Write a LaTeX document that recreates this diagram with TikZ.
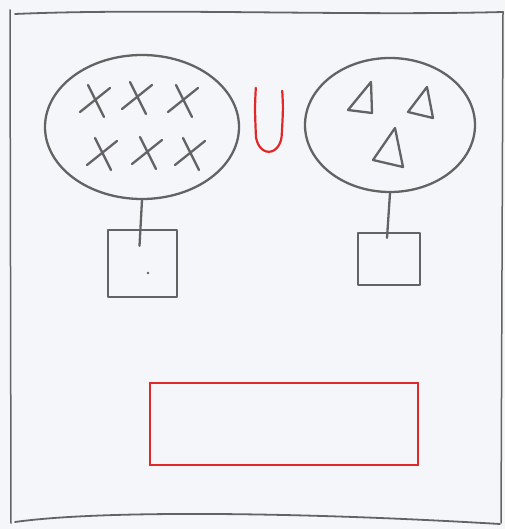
\documentclass[tikz,border=0pt]{standalone}
\usetikzlibrary{shapes.geometric}
\definecolor{pencil}{HTML}{636363}
\definecolor{redpen}{HTML}{E02828}
\definecolor{paper}{HTML}{F5F6FA}
\tikzset{
  sketch/.style={draw=pencil, line width=2.3pt, line cap=round, line join=round},
  redline/.style={draw=redpen, line width=2.2pt, line cap=round, line join=round},
  setellipse/.style={sketch, ellipse, inner sep=0pt},
  boxnode/.style={sketch, rectangle, inner sep=0pt},
}
\begin{document}
\begin{tikzpicture}[x=1pt,y=-1pt]
\fill[paper] (0,0) rectangle (505,529);
\useasboundingbox (0,0) rectangle (505,529);
% frame
\draw[sketch, line width=1.8pt] (15,14) .. controls (150,8) and (350,16) .. (503,12);
\draw[sketch, line width=1.5pt] (10,10) -- (11,523);
\draw[sketch, line width=1.5pt] (503,12) -- (501,523);
\draw[sketch, line width=1.8pt] (15,522) .. controls (100,510) and (300,512) .. (500,524);
% left set
\node[setellipse, minimum width=194pt, minimum height=144pt] (le) at (142,127) {};
\foreach \cx/\cy in {95/100,137/97,183/100,102/153,147/152,190/153}{
  \draw[sketch] (\cx-15,\cy+12) -- (\cx+15,\cy-12);
  \draw[sketch] (\cx-7,\cy-15) -- (\cx+9,\cy+17);
}
% union sign
\node[inner sep=0pt, minimum width=26pt, minimum height=64pt] (u) at (269,120) {};
\draw[redline] (u.north west) .. controls ([xshift=-1pt,yshift=-20pt]u.north west) .. ([yshift=-46pt]u.north west) arc[start angle=180, end angle=360, x radius=13pt, y radius=18pt] .. controls ([xshift=1pt,yshift=-20pt]u.north east) .. ([yshift=-3pt]u.north east);
% right set
\node[setellipse, minimum width=170pt, minimum height=134pt] (re) at (390,125) {};
\draw[sketch] (371,82) -- (372,113) -- (348,110) -- cycle;
\draw[sketch] (427,87) -- (433,118) -- (408,112) -- cycle;
\draw[sketch] (395,128) -- (403,167) -- (373,160) -- cycle;
% boxes
\node[boxnode, minimum width=69pt, minimum height=67pt] (lb) at (142.5,263.5) {};
\node[boxnode, minimum width=62pt, minimum height=52pt] (rb) at (389,259) {};
\fill[pencil] (148,273) circle (1.3pt);
\draw[sketch] (le.south) -- ([yshift=-17pt,xshift=-3pt]lb.north);
\draw[sketch] (re.south) -- ([yshift=-6pt,xshift=-2pt]rb.north);
% result box
\node[draw=redpen, line width=2.2pt, rectangle, minimum width=268pt, minimum height=82pt, inner sep=0pt] (res) at (284,424) {};
\end{tikzpicture}
\end{document}
